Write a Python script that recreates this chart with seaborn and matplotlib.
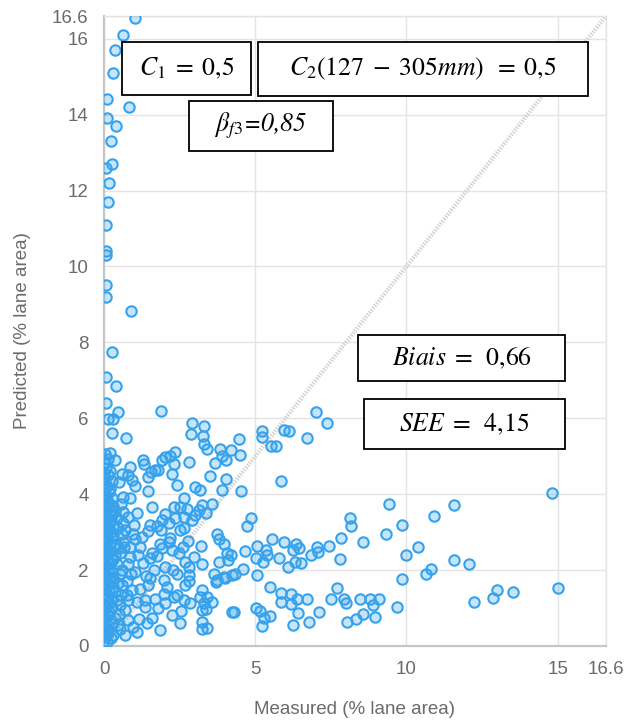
import matplotlib
matplotlib.use("Agg")
import matplotlib.pyplot as plt
import seaborn as sns
import pandas as pd
from matplotlib.patches import Rectangle

# (measured, predicted) pairs, % of lane area
upper_column = [
    (1.03, 16.55), (0.62, 16.1), (0.38, 15.7), (0.29, 15.1), (0.11, 14.4), (0.84, 14.2),
    (0.09, 13.9), (0.39, 13.7), (0.22, 13.3), (0.26, 12.7), (0.07, 12.6), (0.17, 12.2),
    (0.14, 11.7), (0.05, 11.1), (0.06, 10.4), (0.06, 10.3), (0.05, 9.5), (0.05, 9.2),
    (0.89, 8.82), (0.26, 7.75), (0.07, 7.1), (0.39, 6.85), (0.07, 6.41), (0.45, 6.17),
    (1.89, 6.19), (0.14, 5.99), (0.31, 5.99),
]

upper_cluster = [
    (2.91, 5.88), (3.30, 5.79), (0.28, 5.61), (2.89, 5.58), (0.72, 5.47), (3.27, 5.54),
    (3.30, 5.33), (3.41, 5.18), (4.45, 5.45), (0.20, 5.09), (0.14, 4.94), (0.37, 4.91),
    (3.85, 5.18), (4.19, 5.16), (3.89, 5.00), (4.50, 5.04), (2.36, 5.11), (2.03, 4.97),
    (2.19, 5.00), (1.92, 4.91), (1.28, 4.91), (1.31, 4.79), (2.80, 4.85), (2.30, 4.79),
    (3.66, 4.82), (4.04, 4.91), (0.86, 4.72), (1.69, 4.63), (1.56, 4.59), (1.80, 4.65),
    (2.25, 4.54), (0.20, 4.61), (0.59, 4.54), (0.81, 4.50), (3.52, 4.47), (4.04, 4.41),
    (1.47, 4.46), (2.41, 4.24), (0.48, 4.32), (0.92, 4.37), (1.03, 4.21), (3.02, 4.19),
    (3.19, 4.10), (1.47, 4.09), (3.89, 4.10), (0.64, 3.93), (0.86, 3.89), (2.63, 3.89),
    (3.58, 3.75), (1.58, 3.67), (2.30, 3.67), (3.24, 3.71),
]

mid_upper = [
    (7.01, 6.17), (7.38, 5.88), (5.24, 5.66), (5.24, 5.51), (5.94, 5.70), (6.12, 5.67),
    (6.71, 5.47), (5.51, 5.26), (5.68, 5.26), (5.85, 4.34), (4.54, 4.08),
]

mid_band = [
    (4.87, 3.38), (4.72, 3.17), (8.12, 3.36), (8.17, 3.17), (5.54, 2.83), (7.84, 2.85),
    (8.56, 2.73), (5.07, 2.64), (5.94, 2.73), (6.35, 2.70), (6.46, 2.59), (7.04, 2.61),
    (7.45, 2.64), (4.65, 2.50), (5.35, 2.53), (5.40, 2.41), (6.24, 2.53), (6.84, 2.41),
    (7.09, 2.48), (4.19, 2.40), (5.02, 2.32), (5.79, 2.32), (5.27, 2.22), (6.32, 2.22),
    (6.51, 2.18), (7.82, 2.29), (6.09, 2.09), (4.61, 2.04), (4.32, 1.89), (5.05, 1.87),
    (5.49, 1.56), (7.71, 1.53), (5.85, 1.39), (6.18, 1.36), (6.38, 1.25), (6.71, 1.24),
    (7.51, 1.24), (7.93, 1.24), (8.01, 1.12), (8.45, 1.23), (5.85, 1.17), (6.18, 1.10),
    (5.02, 1.01), (5.16, 0.92), (6.40, 0.86), (7.12, 0.90), (4.30, 0.89), (5.29, 0.75),
    (5.49, 0.80), (8.56, 0.84), (8.34, 0.70), (8.04, 0.64), (5.24, 0.53), (6.24, 0.55),
    (6.79, 0.62),
]

right_tail = [
    (14.82, 4.02), (9.42, 3.73), (11.57, 3.71), (10.91, 3.42), (9.87, 3.20), (9.31, 2.94),
    (10.37, 2.61), (9.98, 2.41), (11.57, 2.26), (12.08, 2.15), (10.80, 2.02), (10.66, 1.91),
    (9.87, 1.77), (15.01, 1.54), (13.52, 1.43), (12.99, 1.47), (12.86, 1.27), (12.24, 1.17),
    (8.78, 1.23), (9.09, 1.23), (8.89, 1.08), (9.69, 1.02), (8.95, 0.76),
]

lower_cluster = [
    (2.03, 3.49), (2.52, 3.67), (2.75, 3.62), (3.13, 3.58), (3.36, 3.50), (0.70, 3.05),
    (1.53, 3.20), (1.75, 3.17), (1.92, 3.32), (2.14, 3.23), (2.36, 3.36), (2.63, 3.40),
    (2.91, 3.32), (3.02, 3.45), (2.63, 3.11), (1.47, 3.03), (1.25, 2.88), (1.03, 2.83),
    (2.19, 2.85), (2.78, 2.76), (3.22, 2.64), (3.74, 2.96), (3.80, 2.83), (3.96, 2.68),
    (0.64, 2.75), (0.86, 2.61), (1.92, 2.59), (2.25, 2.53), (2.47, 2.44), (1.58, 2.44),
    (1.14, 2.39), (1.53, 2.31), (1.75, 2.38), (2.97, 2.35), (2.69, 2.22), (3.24, 2.15),
    (2.03, 2.09), (2.27, 2.00), (0.81, 2.15), (1.03, 1.96), (0.53, 1.91), (2.80, 2.08),
    (2.80, 1.87), (2.80, 1.71), (2.69, 1.61), (3.63, 1.91), (3.74, 1.74), (3.96, 1.82),
    (4.24, 1.87), (1.53, 1.78), (1.47, 1.61), (2.08, 1.56), (1.97, 1.36), (2.41, 1.34),
    (2.03, 1.12), (2.63, 1.21), (2.86, 1.12), (3.24, 1.47), (3.19, 1.30), (3.41, 1.30),
    (3.30, 1.12), (3.58, 1.17), (3.24, 0.95), (3.36, 0.97), (4.24, 0.90), (2.25, 0.82),
    (2.56, 0.92), (1.80, 0.99), (1.36, 1.04), (1.08, 1.17), (3.24, 0.64), (3.41, 0.48),
    (3.24, 0.46), (1.86, 0.42), (1.42, 0.60), (0.81, 0.68), (0.53, 0.46), (1.08, 0.38),
    (0.31, 0.29), (0.37, 0.73), (0.37, 1.43), (0.59, 1.61), (0.92, 1.47), (0.75, 1.34),
    (0.53, 1.08), (0.31, 1.78), (0.37, 2.39), (0.48, 2.58), (0.31, 2.92), (0.42, 3.36),
    (0.26, 3.58), (0.64, 3.53), (0.14, 0.33), (0.09, 0.11),
    (4.07, 2.44), (4.10, 2.26), (3.80, 2.22), (3.69, 1.69), (4.00, 1.78),
    (0.45, 0.55), (0.50, 0.85), (0.42, 1.20), (0.55, 1.35), (0.47, 1.65), (0.60, 2.00),
    (0.44, 2.15), (0.52, 2.45), (0.65, 2.60), (0.40, 2.70), (0.58, 2.95), (0.46, 3.10),
    (0.62, 3.25), (0.38, 3.55), (0.55, 3.75), (0.70, 0.30), (0.68, 0.95), (0.80, 1.20),
    (0.75, 1.70), (0.90, 1.90), (0.85, 2.35), (0.95, 2.95), (1.00, 3.20), (0.78, 3.40),
    (1.10, 3.50), (1.20, 2.60), (1.30, 2.20), (1.20, 1.50), (1.35, 1.20), (1.15, 0.70),
    (0.95, 0.50), (1.60, 0.75), (1.70, 1.25), (1.40, 1.85), (1.65, 2.00), (1.85, 2.70),
    (1.90, 3.05), (2.00, 1.75), (2.30, 1.30), (2.50, 0.60), (2.40, 1.90), (2.60, 2.60),
    (2.15, 2.75), (2.50, 3.05),
]

zero_column = [
    (0.00, 0.12), (0.02, 0.25), (0.05, 0.38), (0.00, 0.52), (0.08, 0.61), (0.03, 0.74),
    (0.12, 0.83), (0.00, 0.95), (0.06, 1.04), (0.15, 1.12), (0.02, 1.21), (0.09, 1.30),
    (0.00, 1.38), (0.18, 1.45), (0.04, 1.53), (0.11, 1.60), (0.00, 1.68), (0.07, 1.76),
    (0.21, 1.82), (0.02, 1.90), (0.13, 1.97), (0.00, 2.05), (0.05, 2.12), (0.17, 2.18),
    (0.09, 2.26), (0.00, 2.33), (0.03, 2.41), (0.14, 2.47), (0.07, 2.55), (0.00, 2.62),
    (0.20, 2.68), (0.04, 2.76), (0.11, 2.83), (0.00, 2.90), (0.06, 2.98), (0.16, 3.05),
    (0.02, 3.12), (0.09, 3.20), (0.00, 3.27), (0.13, 3.35), (0.05, 3.43), (0.00, 3.50),
    (0.19, 3.56), (0.08, 3.64), (0.02, 3.72), (0.12, 3.80), (0.00, 3.88), (0.06, 3.96),
    (0.15, 4.05), (0.01, 4.13), (0.09, 4.22), (0.00, 4.30), (0.04, 4.40), (0.12, 4.50),
    (0.00, 4.58), (0.06, 4.70), (0.00, 4.82), (0.03, 5.05),
    (0.24, 0.20), (0.10, 0.45), (0.26, 0.58), (0.18, 0.90), (0.28, 1.02), (0.23, 1.25),
    (0.30, 1.55), (0.25, 1.70), (0.27, 1.95), (0.24, 2.20), (0.30, 2.30), (0.22, 2.50),
    (0.27, 2.85), (0.24, 3.00), (0.29, 3.15), (0.22, 3.30), (0.26, 3.45), (0.30, 3.70),
    (0.25, 3.90), (0.20, 4.15), (0.28, 4.35),
    (0.00, 0.30), (0.00, 0.70), (0.00, 1.10), (0.00, 1.50), (0.00, 1.85), (0.00, 2.20),
    (0.00, 2.50), (0.00, 2.78), (0.00, 3.05), (0.00, 3.40), (0.00, 3.65), (0.00, 3.98),
    (0.00, 4.20), (0.00, 4.45),
]

groups = [upper_column, upper_cluster, mid_upper, mid_band, right_tail, lower_cluster, zero_column]
df = pd.DataFrame(
    [p for g in groups for p in g], columns=["measured", "predicted"]
)

identity = [0, 16.6]
x_ticks = [0, 5, 10, 15, 16.6]
x_tick_labels = ["0", "5", "10", "15", "16.6"]
y_ticks = [0, 2, 4, 6, 8, 10, 12, 14, 16, 16.6]
y_tick_labels = ["0", "2", "4", "6", "8", "10", "12", "14", "16", "16.6"]

annotations = [
    (r"$C_1\;=\;0{,}5$", None),
    (r"$C_2(127\;-\;305mm)\;\;=\;0{,}5$", None),
    (r"$\beta_{f3}$=0,85", "italic"),
    (r"$Biais\;=\;\;0{,}66$", None),
    (r"$SEE\;=\;\;4{,}15$", None),
]

sns.set_style("white")
plt.rcParams["font.family"] = ["Liberation Sans", "DejaVu Sans"]
plt.rcParams["mathtext.fontset"] = "stix"

W, H = 624, 721
fig = plt.figure(figsize=(W / 100, H / 100), dpi=100)
ax = fig.add_axes([104 / W, 1 - 646 / H, (606 - 104) / W, (646 - 16) / H])

grid_c = "#e4e4e4"
text_c = "#6b6b6b"
blue = "#36a2eb"

ax.plot(identity, identity, color="#d2d2d2", lw=3.0,
        linestyle=(0, (0.35, 0.35)), solid_capstyle="butt", zorder=1)

sns.scatterplot(data=df, x="measured", y="predicted", ax=ax, s=56,
                color=blue, edgecolor=blue, linewidth=1.5, zorder=3, legend=False)
ax.collections[-1].set_facecolor((54 / 255, 162 / 255, 235 / 255, 0.28))

ax.set_xlim(0, 16.6)
ax.set_ylim(0, 16.6)
ax.set_xticks(x_ticks)
ax.set_xticklabels(x_tick_labels)
ax.set_yticks(y_ticks)
ax.set_yticklabels(y_tick_labels)
ax.grid(True, color=grid_c, lw=1)
ax.set_axisbelow(True)
ax.tick_params(length=8, width=1, color=grid_c, labelcolor=text_c,
               labelsize=13.5, pad=3)
for side in ("top", "right"):
    ax.spines[side].set_color(grid_c)
    ax.spines[side].set_linewidth(1)
for side in ("left", "bottom"):
    ax.spines[side].set_color("#c6c6c6")
    ax.spines[side].set_linewidth(1.6)

ax.set_xlabel("Measured (% lane area)", fontsize=13.5, color=text_c)
ax.set_ylabel("Predicted (% lane area)", fontsize=13.5, color=text_c)
ax.xaxis.set_label_coords(0.5, -(709 - 646) / 630)
ax.xaxis.label.set_va("center")
ax.yaxis.set_label_coords(-(104 - 23) / 502, (646 - 331) / 630)
ax.yaxis.label.set_va("center")

# annotation boxes (left, top, right, bottom in pixels)
box_px = [
    (122, 42, 251, 95),
    (258, 42, 588, 96),
    (189, 101, 333, 151),
    (358, 335, 565, 381),
    (364, 399, 565, 449),
]
for (l, t, r, b), (label, style) in zip(box_px, annotations):
    fig.add_artist(Rectangle((l / W, 1 - b / H), (r - l) / W, (b - t) / H,
                             transform=fig.transFigure, facecolor="white",
                             edgecolor="black", lw=1.3, zorder=5))
    kw = dict(family="STIXGeneral", style="italic") if style else {}
    fig.text((l + r) / 2 / W, 1 - (t + b) / 2 / H, label, ha="center",
             va="center", fontsize=18.5, color="black", zorder=6, **kw)

fig.savefig("out.png", dpi=100)
